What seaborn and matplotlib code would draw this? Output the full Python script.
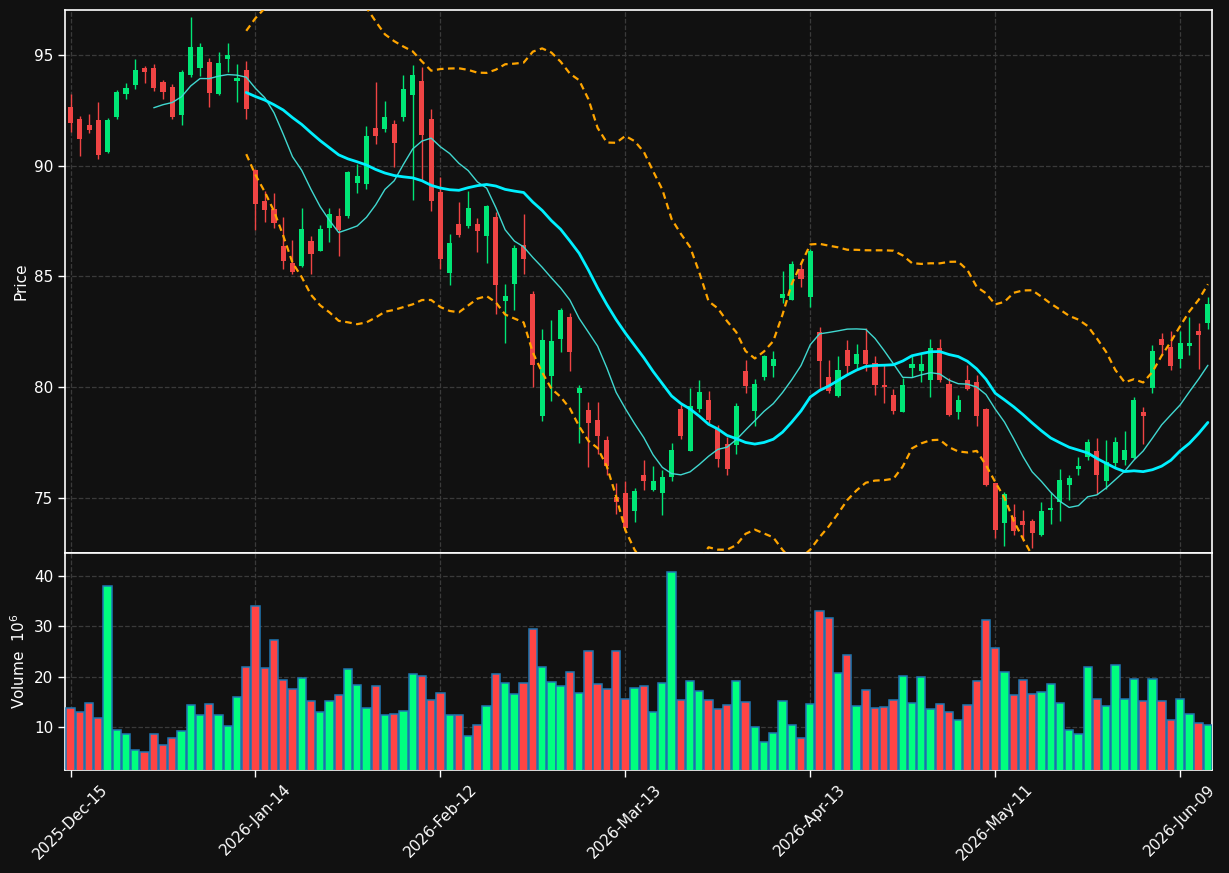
import numpy as np
import pandas as pd
import matplotlib
matplotlib.use('Agg')
import matplotlib.pyplot as plt
import seaborn as sns

# OHLC data (trading days)
opens = [92.64, 92.13, 91.82, 92.06, 90.61, 92.20, 93.23, 93.64, 94.39, 94.39,
         93.76, 93.53, 92.29, 94.09, 94.40, 94.70, 93.23, 94.80, 93.83, 94.30,
         89.80, 88.41, 88.03, 86.37, 85.60, 85.48, 86.59, 86.17, 87.20, 87.72,
         87.73, 89.22, 89.17, 91.71, 91.66, 91.87, 92.20, 93.18, 93.81, 92.13,
         88.80, 85.16, 87.36, 87.29, 87.36, 86.84, 87.67, 83.91, 84.68, 86.40,
         84.19, 78.68, 80.53, 82.19, 83.18, 79.76, 78.98, 78.52, 77.63, 75.06,
         75.23, 74.42, 76.05, 75.34, 75.22, 75.94, 79.03, 77.13, 79.04, 79.43,
         78.12, 77.44, 77.38, 80.72, 78.95, 80.48, 80.94, 84.01, 83.96, 85.34,
         84.07, 82.49, 80.48, 79.60, 81.69, 81.06, 81.69, 81.09, 80.12, 79.67,
         78.90, 80.86, 80.75, 80.34, 81.78, 80.15, 78.88, 80.31, 80.23, 79.03,
         75.67, 73.86, 74.14, 73.98, 73.94, 73.32, 74.45, 74.84, 75.58, 76.32,
         76.86, 77.11, 75.78, 76.60, 76.72, 76.80, 78.88, 79.95, 82.16, 81.81,
         81.26, 81.84, 82.52, 82.91]
highs = [93.25, 92.23, 92.35, 92.89, 92.17, 93.40, 93.72, 94.83, 94.50, 94.61,
         93.87, 93.68, 94.34, 96.72, 95.55, 94.86, 95.14, 95.55, 94.58, 94.73,
         89.83, 88.88, 88.75, 87.70, 86.64, 88.08, 86.81, 87.34, 88.11, 88.11,
         89.74, 90.08, 91.79, 93.79, 92.93, 92.07, 94.11, 94.55, 94.47, 92.56,
         89.49, 86.93, 88.36, 88.88, 87.65, 88.23, 87.92, 84.68, 86.43, 87.80,
         84.35, 82.61, 83.02, 83.57, 83.33, 80.09, 79.34, 79.34, 77.82, 75.66,
         75.77, 75.45, 76.71, 76.44, 76.25, 77.47, 79.23, 79.98, 80.31, 79.81,
         78.29, 77.74, 79.29, 81.22, 80.36, 81.44, 81.62, 85.23, 85.68, 85.68,
         86.23, 82.71, 81.22, 81.41, 82.14, 81.94, 82.66, 81.41, 81.00, 79.93,
         80.40, 81.42, 81.50, 82.16, 82.16, 80.40, 79.65, 81.00, 80.56, 79.06,
         75.70, 75.27, 74.73, 74.45, 74.06, 74.80, 75.28, 76.30, 76.02, 76.85,
         77.66, 77.71, 77.62, 77.74, 78.01, 79.57, 79.12, 81.89, 82.44, 82.52,
         82.52, 83.18, 82.88, 84.08]
lows = [91.52, 90.46, 91.49, 90.32, 90.58, 92.09, 93.01, 93.47, 93.75, 93.37,
        93.01, 92.12, 91.85, 94.00, 94.06, 92.67, 93.20, 94.22, 92.89, 92.09,
        87.11, 87.44, 87.17, 85.34, 85.13, 85.45, 85.13, 86.14, 86.54, 85.92,
        87.64, 88.78, 88.97, 90.96, 91.54, 89.96, 92.04, 88.47, 89.33, 87.97,
        85.32, 84.60, 86.79, 87.17, 86.09, 85.63, 83.29, 82.00, 83.48, 85.10,
        80.01, 78.48, 79.37, 81.58, 80.72, 77.47, 76.39, 76.99, 76.02, 74.26,
        73.51, 73.90, 75.34, 75.31, 74.25, 75.78, 77.65, 77.10, 78.88, 78.37,
        76.39, 76.05, 77.00, 79.73, 78.26, 80.32, 80.45, 83.82, 83.93, 84.51,
        83.61, 79.93, 79.73, 79.54, 80.61, 80.84, 80.72, 79.67, 79.28, 78.79,
        78.87, 80.45, 80.25, 79.57, 80.25, 78.70, 78.56, 79.86, 78.24, 75.53,
        73.20, 72.84, 73.31, 73.04, 72.73, 73.29, 73.83, 73.95, 74.92, 76.05,
        76.71, 75.20, 75.39, 76.36, 76.49, 76.77, 77.43, 79.73, 81.45, 80.79,
        80.87, 81.45, 80.83, 82.63]
closes = [91.93, 91.21, 91.62, 90.49, 92.06, 93.31, 93.50, 94.30, 94.23, 93.50,
          93.32, 92.20, 94.22, 95.38, 95.38, 93.28, 94.62, 95.00, 93.98, 92.56,
          88.28, 88.01, 87.42, 85.71, 85.21, 87.14, 86.03, 87.14, 87.81, 87.09,
          89.71, 89.55, 91.32, 91.34, 92.18, 91.02, 93.45, 94.08, 91.38, 88.41,
          85.81, 86.51, 86.89, 88.08, 87.04, 88.20, 84.63, 84.12, 86.28, 85.81,
          81.00, 82.13, 82.08, 83.50, 81.61, 79.96, 78.37, 77.82, 76.44, 74.81,
          73.64, 75.33, 75.75, 75.77, 75.94, 77.16, 77.80, 79.17, 79.78, 78.51,
          76.75, 76.32, 79.17, 80.07, 80.15, 81.41, 81.28, 84.19, 85.56, 84.90,
          86.17, 81.20, 79.81, 80.78, 80.94, 81.50, 81.06, 80.12, 80.00, 78.95,
          80.12, 81.06, 81.06, 81.78, 80.34, 78.73, 79.43, 79.93, 78.68, 75.60,
          73.54, 75.20, 73.51, 73.78, 73.40, 74.41, 74.56, 75.83, 75.92, 76.41,
          77.54, 76.06, 76.64, 77.54, 77.16, 79.43, 78.68, 81.64, 81.92, 80.95,
          82.00, 82.00, 82.38, 83.75]
# volume in millions
volumes = [13.8, 13.0, 14.8, 11.8, 38.0, 9.4, 8.6, 5.4, 5.0, 8.6,
           6.4, 7.8, 9.2, 14.4, 12.4, 14.6, 12.4, 10.2, 16.0, 22.0,
           34.0, 21.8, 27.2, 19.4, 17.6, 19.8, 15.2, 13.0, 15.2, 16.4,
           21.6, 18.4, 13.8, 18.2, 12.4, 12.6, 13.2, 20.6, 20.2, 15.4,
           16.8, 12.4, 12.4, 8.2, 10.4, 14.2, 20.6, 18.8, 16.6, 18.8,
           29.4, 22.0, 19.0, 18.2, 21.0, 16.8, 25.0, 18.6, 17.6, 25.0,
           15.6, 17.8, 18.2, 13.0, 18.8, 40.8, 15.4, 19.2, 17.2, 15.4,
           13.6, 14.4, 19.2, 15.0, 10.0, 7.0, 8.8, 15.2, 10.4, 7.8,
           14.6, 33.0, 31.6, 20.8, 24.2, 14.2, 17.4, 13.8, 14.0, 15.4,
           20.2, 14.8, 20.0, 13.6, 14.6, 13.0, 11.4, 14.4, 19.2, 31.2,
           25.6, 21.0, 16.4, 19.4, 16.6, 17.0, 18.6, 14.8, 9.4, 8.6,
           22.0, 15.6, 14.2, 22.4, 15.6, 19.6, 15.2, 19.6, 15.2, 11.4,
           15.6, 12.6, 10.8, 10.4]
tick_labels = ['2025-Dec-15', '2026-Jan-14', '2026-Feb-12', '2026-Mar-13',
               '2026-Apr-13', '2026-May-11', '2026-Jun-09']

df = pd.DataFrame({'Open': opens, 'High': highs, 'Low': lows,
                   'Close': closes, 'Volume': volumes})
df['idx'] = np.arange(len(df))
df['MA10'] = df['Close'].rolling(10).mean()
df['MA20'] = df['Close'].rolling(20).mean()
std20 = df['Close'].rolling(20).std()
df['Upper'] = df['MA20'] + 2 * std20
df['Lower'] = df['MA20'] - 2 * std20

bg = '#111111'
sns.set_theme(style='dark', rc={
    'figure.facecolor': bg, 'axes.facecolor': bg, 'axes.edgecolor': 'white',
    'axes.labelcolor': 'white', 'xtick.color': 'white', 'ytick.color': 'white',
    'text.color': 'white', 'axes.linewidth': 1.2,
})
plt.rcParams['font.family'] = ['DejaVu Sans']

up_c, dn_c = '#00e676', '#ef4444'
vup_c, vdn_c = '#00ff7f', '#ff4444'
up = df['Close'] >= df['Open']

fig = plt.figure(figsize=(12.29, 8.73), dpi=100)
ax1 = fig.add_axes([0.0529, 0.3666, 0.9333, 0.6220])
ax2 = fig.add_axes([0.0529, 0.1180, 0.9333, 0.2486], sharex=ax1)

# candles
ax1.vlines(df['idx'], df['Low'], df['High'],
           colors=np.where(up, up_c, dn_c), linewidth=1, zorder=3)
body = (df['Close'] - df['Open']).abs().clip(lower=0.12)
ax1.bar(df['idx'], body, bottom=df[['Open', 'Close']].min(axis=1), width=0.55,
        color=np.where(up, up_c, dn_c), linewidth=0, zorder=4)

# indicators
sns.lineplot(data=df, x='idx', y='MA10', ax=ax1, color='#40d8d0', linewidth=1,
             zorder=5)
sns.lineplot(data=df, x='idx', y='MA20', ax=ax1, color='#00f0ff', linewidth=2,
             zorder=5)
for col in ['Upper', 'Lower']:
    sns.lineplot(data=df, x='idx', y=col, ax=ax1, color='orange', linewidth=1.6,
                 linestyle=(0, (3, 2)), zorder=5)

ax1.set_ylim(72.52, 97.03)
ax1.set_xlim(-0.6, 123.45)
ax1.set_ylabel('Price', fontsize=11)
ax1.set_xlabel('')
ax1.set_yticks([75, 80, 85, 90, 95])
ax1.tick_params(axis='x', bottom=False, labelbottom=False)

# volume
ax2.bar(df['idx'], df['Volume'], width=0.9,
        color=np.where(up, vup_c, vdn_c), edgecolor='#1f77b4', linewidth=1.1,
        zorder=3)
ax2.set_ylim(1.5, 44.5)
ax2.set_yticks([10, 20, 30, 40])
ax2.set_ylabel('Volume  $10^{6}$', fontsize=11)
ax2.set_xticks(range(0, 121, 20))
ax2.set_xticklabels(tick_labels, rotation=45, ha='center', fontsize=11)

for ax in (ax1, ax2):
    ax.grid(True, color='#3a3a3a', linestyle='--', linewidth=0.9)
    ax.tick_params(axis='y', left=True, length=5, width=1, labelsize=11,
                   colors='white', direction='out')
    for s in ax.spines.values():
        s.set_color('white')
ax2.tick_params(axis='x', bottom=True, length=5, width=1, colors='white')

fig.savefig('out.png', dpi=100, facecolor=bg)
